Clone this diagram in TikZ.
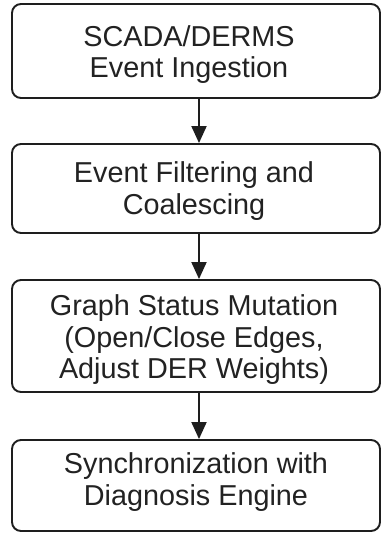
\documentclass[tikz,border=0pt]{standalone}
\usepackage{fontspec}
\setmainfont{Liberation Sans}
\usetikzlibrary{arrows.meta}
\definecolor{ink}{HTML}{1E1E1E}
\definecolor{txtc}{HTML}{222222}
\tikzset{
  box/.style={draw=ink, line width=1.9pt, rounded corners=9pt, minimum width=368pt, inner sep=0pt},
  txt/.style={text=txtc, align=center, inner sep=0pt, font=\fontsize{28.8}{31.5}\selectfont},
  flow/.style={draw=ink, line width=1.9pt, -{Triangle[width=15pt,length=17pt]}}
}
\begin{document}
\begin{tikzpicture}[x=1pt,y=1pt]
\useasboundingbox (0,0) rectangle (381,-533);
\node[box, minimum height=94pt] (b1) at (196,-51) {};
\node[box, minimum height=89pt] (b2) at (196,-188.5) {};
\node[box, minimum height=112pt] (b3) at (196,-336) {};
\node[box, minimum height=91pt] (b4) at (196,-485.5) {};
\node[txt] (t1) at (189,-54.5) {SCADA/DERMS\\Event Ingestion};
\node[txt] (t2) at (194,-191) {Event Filtering and\\Coalescing};
\node[txt] (t3) at (194,-340) {Graph Status Mutation\\(Open/Close Edges,\\Adjust DER Weights)};
\node[txt] (t4) at (196,-482) {Synchronization with\\Diagnosis Engine};
\draw[flow] ([xshift=3pt]b1.south) -- ([xshift=3pt]b2.north);
\draw[flow] ([xshift=3pt]b2.south) -- ([xshift=3pt]b3.north);
\draw[flow] ([xshift=3pt]b3.south) -- ([xshift=3pt]b4.north);
\end{tikzpicture}
\end{document}
